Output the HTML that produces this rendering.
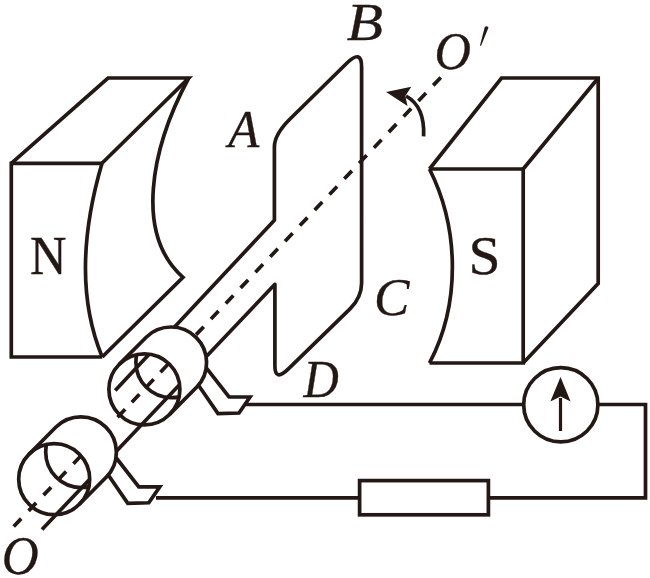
<!DOCTYPE html>
<html>
<head>
<meta charset="utf-8">
<style>
html,body{margin:0;padding:0;background:#fff;}
body{width:650px;height:578px;overflow:hidden;}
svg{display:block;filter:blur(0.45px);}
text{font-family:"Liberation Serif",serif;fill:#231815;stroke:#231815;stroke-width:0.35px;}
.it{font-style:italic;}
</style>
</head>
<body>
<svg width="650" height="578" viewBox="0 0 650 578">
<defs><clipPath id="fc"><circle cx="144.4" cy="389.4" r="35.5"/></clipPath></defs>
<rect width="650" height="578" fill="#fff"/>
<g fill="none" stroke="#231815" stroke-width="3.7" stroke-linejoin="miter" stroke-linecap="butt">
<!-- N magnet -->
<path d="M102 163.3 L11.3 163.3 L11.3 357 L102.2 357"/>
<path d="M11.3 163.3 L108 78 L188.7 78 L102 163.3"/>
<path d="M102 163.3 C81 235 78.5 300 102.2 357"/>
<path d="M188.7 78 C150 150 135 235 183 277.3 L102.2 357"/>
<!-- S magnet -->
<path d="M429.5 169 L523.2 169 L523.2 363 L429.5 363"/>
<path d="M429.5 169 L501.5 78 L598.2 78 L598.2 283.5 L523.2 363"/>
<path d="M523.2 169 L597.4 79"/>
<path d="M429.5 169 C460 230 460 305 429.5 363"/>
<!-- coil + shaft lines -->
<path stroke-linejoin="round" d="M115.2 390.4 L274.4 220.2 L274.4 147 Q274.4 134.4 290 119 L347 63 Q361.6 48.7 361.6 67 L361.6 283 Q361.6 297.5 350 308.8 L288.4 368.9 Q274.9 382 274.9 366 L274.9 284.3 L42 529.5"/>
<!-- axis -->
<path d="M440.8 77.4 L190 341.1" stroke-dasharray="11 10.5"/>
<path d="M168 364.2 L116.5 418.4" stroke-dasharray="11 9.75"/>
<path d="M81 455.7 L13.7 526.5" stroke-dasharray="11 10.7"/>
<!-- wires -->
<path d="M246 404.5 L523.5 404.5"/>
<path d="M598 404.5 L645.5 404.5 L645.5 497.8 L490 497.8"/>
<path d="M156 497.8 L358 497.8"/>
<rect x="359.6" y="480.6" width="128.8" height="34.2"/>
<circle cx="560.8" cy="404.8" r="37.1"/>
<path d="M560.5 431 L560.5 398" stroke-width="3.2"/>
<!-- rings -->
<g id="ring">
<path d="M119.2 364.4 L146.2 337.2 A35.5 35.5 0 0 1 196.6 387.2 L169.6 414.4 A35.5 35.5 0 0 1 119.2 364.4 Z M108.9 389.4 a35.5 35.5 0 1 0 71.0 0 a35.5 35.5 0 1 0 -71.0 0 Z" fill="#fff" fill-rule="evenodd" stroke="none"/>
<path d="M207 369 L229 397 L250 397 L239 413 L218 413.6 L199 386 Z" fill="#fff" stroke="none"/>
<circle cx="144.4" cy="389.4" r="35.5"/>
<path d="M119.2 364.4 L146.2 337.2 A35.5 35.5 0 0 1 196.6 387.2 L169.6 414.4"/>
<circle cx="171.4" cy="362.2" r="35.5" clip-path="url(#fc)"/>
<path d="M206.5 368.2 L229 397 L250 397 L239 413 L218 413.6 L198.5 385.2"/>
</g>
<use href="#ring" transform="translate(-90.2 89.8)"/>
<!-- rotation arrow -->
<path d="M423.6 136.3 C424.5 118 419.5 103.5 406 96"/>
</g>
<g fill="#231815" stroke="none">
<path d="M560.5 377 L570.6 401.5 L560.5 396.5 L550.4 401.5 Z"/>
<path d="M386.1 92 L411.3 86.7 L405.3 96 L407.5 106 Z"/>
<path d="M484.7 27.2 Q486.4 25.2 488.5 27.4 L481 46 L480 45.6 Z"/>
</g>
<text x="30" y="274" font-size="54" textLength="36.5" lengthAdjust="spacingAndGlyphs">N</text>
<text x="468.5" y="274" font-size="54" textLength="32" lengthAdjust="spacingAndGlyphs">S</text>
<text class="it" x="228.3" y="147.3" font-size="53" textLength="31" lengthAdjust="spacingAndGlyphs">A</text>
<text class="it" x="346.8" y="39.5" font-size="53" textLength="36.3" lengthAdjust="spacingAndGlyphs">B</text>
<text class="it" x="374" y="314.6" font-size="53">C</text>
<text class="it" x="303.5" y="397" font-size="53" textLength="35.3" lengthAdjust="spacingAndGlyphs">D</text>
<text class="it" x="434.5" y="68.6" font-size="53" textLength="36.5" lengthAdjust="spacingAndGlyphs">O</text>
<text class="it" x="1.8" y="574.2" font-size="54" textLength="37" lengthAdjust="spacingAndGlyphs">O</text>
</svg>
</body>
</html>
